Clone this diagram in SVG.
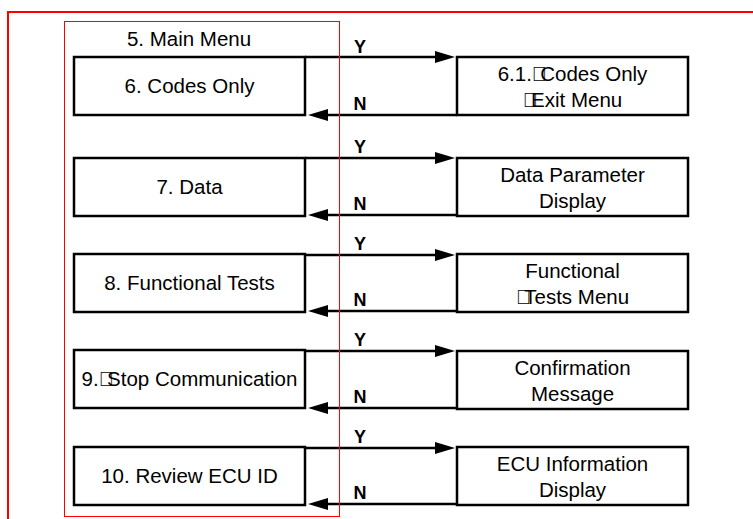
<svg xmlns="http://www.w3.org/2000/svg" width="753" height="519" viewBox="0 0 753 519">
<defs>
<style>
.box{fill:#fff;stroke:#000;stroke-width:2.5}
.t{font-family:"Liberation Sans",Arial,sans-serif;font-size:20.5px;fill:#000;text-anchor:middle}
.yn{font-family:"Liberation Sans",Arial,sans-serif;font-size:18px;font-weight:bold;fill:#000;text-anchor:middle}
.ln{stroke:#000;stroke-width:2.5;fill:none}
</style>
<marker id="ah" markerUnits="userSpaceOnUse" markerWidth="20" markerHeight="12" refX="12" refY="6" orient="auto">
<path d="M0,0 L20,6 L0,12 z" fill="#000"/>
</marker>
</defs>
<rect width="753" height="519" fill="#fff"/>
<rect x="8" y="12" width="760" height="520" fill="none" stroke="#ff0000" stroke-width="2"/>
<text class="t" x="189" y="46">5. Main Menu</text>

<g id="n6"><rect class="box" x="74" y="57" width="231" height="58"/><text class="t" x="189.5" y="93">6. Codes Only</text></g>
<g id="n61"><rect class="box" x="457" y="57" width="231" height="58"/><text class="t" x="572.5" y="81">6.1.&#xF020;<tspan dx="-7">Codes Only</tspan></text><text class="t" x="572.5" y="107">&#xF020;<tspan dx="-7">Exit Menu</tspan></text></g>

<g id="n7"><rect class="box" x="74" y="158" width="231" height="58"/><text class="t" x="189.5" y="194">7. Data</text></g>
<g id="n71"><rect class="box" x="457" y="158" width="231" height="58"/><text class="t" x="572.5" y="182">Data Parameter</text><text class="t" x="572.5" y="207.5">Display</text></g>

<g id="n8"><rect class="box" x="74" y="254" width="231" height="58"/><text class="t" x="189.5" y="290">8. Functional Tests</text></g>
<g id="n81"><rect class="box" x="457" y="254" width="231" height="58"/><text class="t" x="572.5" y="278">Functional</text><text class="t" x="572.5" y="303.5">&#xF020;<tspan dx="-7">Tests Menu</tspan></text></g>

<g id="n9"><rect class="box" x="74" y="350" width="231" height="58"/><text class="t" x="189.5" y="386">9.&#xF020;<tspan dx="-7">Stop Communication</tspan></text></g>
<g id="n91"><rect class="box" x="457" y="351" width="231" height="58"/><text class="t" x="572.5" y="375">Confirmation</text><text class="t" x="572.5" y="400.5">Message</text></g>

<g id="n10"><rect class="box" x="74" y="447" width="231" height="58"/><text class="t" x="189.5" y="483">10. Review ECU ID</text></g>
<g id="n101"><rect class="box" x="457" y="447" width="231" height="58"/><text class="t" x="572.5" y="471">ECU Information</text><text class="t" x="572.5" y="496.5">Display</text></g>

<g id="connectors">
<line class="ln" x1="305" y1="57" x2="447" y2="57" marker-end="url(#ah)"/>
<line class="ln" x1="457" y1="115" x2="316" y2="115" marker-end="url(#ah)"/>
<line class="ln" x1="305" y1="158" x2="447" y2="158" marker-end="url(#ah)"/>
<line class="ln" x1="457" y1="215" x2="316" y2="215" marker-end="url(#ah)"/>
<line class="ln" x1="305" y1="255" x2="447" y2="255" marker-end="url(#ah)"/>
<line class="ln" x1="457" y1="311" x2="316" y2="311" marker-end="url(#ah)"/>
<line class="ln" x1="305" y1="351" x2="447" y2="351" marker-end="url(#ah)"/>
<line class="ln" x1="457" y1="408" x2="316" y2="408" marker-end="url(#ah)"/>
<line class="ln" x1="305" y1="448" x2="447" y2="448" marker-end="url(#ah)"/>
<line class="ln" x1="457" y1="504" x2="316" y2="504" marker-end="url(#ah)"/>
<text class="yn" x="360" y="53">Y</text>
<text class="yn" x="360" y="110">N</text>
<text class="yn" x="360" y="153">Y</text>
<text class="yn" x="360" y="210">N</text>
<text class="yn" x="360" y="250">Y</text>
<text class="yn" x="360" y="306">N</text>
<text class="yn" x="360" y="346">Y</text>
<text class="yn" x="360" y="403">N</text>
<text class="yn" x="360" y="443">Y</text>
<text class="yn" x="360" y="499">N</text>
</g>
<rect x="64.5" y="21.5" width="275" height="495" fill="none" stroke="#ff0000" stroke-width="1"/>
</svg>
